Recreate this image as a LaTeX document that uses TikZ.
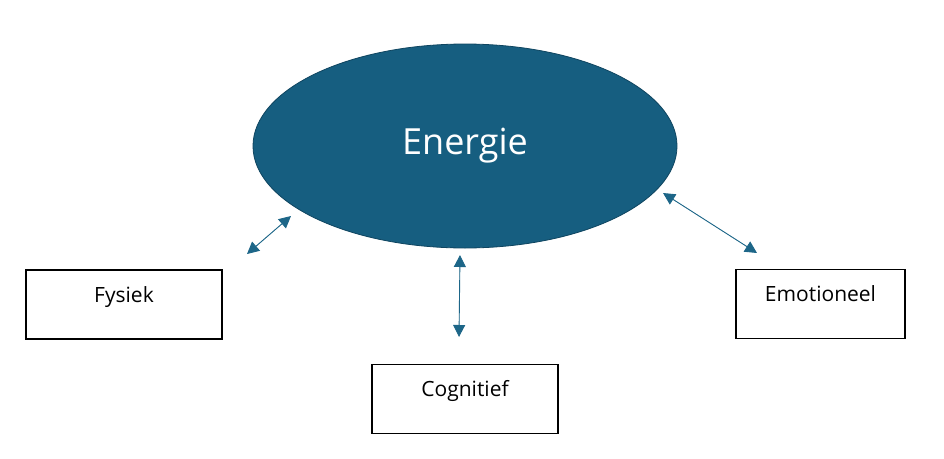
\documentclass[tikz,border=0pt]{standalone}
\usepackage{fontspec}
\setmainfont{Open Sans}
\usepackage{xcolor}
\usetikzlibrary{arrows.meta,positioning,shapes.geometric}
\definecolor{energyblue}{HTML}{165E80}
\definecolor{energyline}{HTML}{0F4560}
\definecolor{arrowblue}{HTML}{1D6688}
\begin{document}
\begin{tikzpicture}[x=1pt,y=-1pt,
box/.style={draw,line width=1.3pt,inner xsep=0pt,inner ysep=0pt,text height=32pt,text depth=37pt,font=\fontsize{21}{25}\selectfont},
arr/.style={{Triangle[length=12pt,width=12pt]}-{Triangle[length=12pt,width=12pt]},line width=0.9pt,draw=arrowblue,fill=arrowblue}]
\useasboundingbox (0,0) rectangle (944,458);
\node[ellipse,fill=energyblue,draw=energyline,line width=0.8pt,minimum width=424pt,minimum height=204pt,inner sep=0pt,text=white,font=\fontsize{36}{40}\selectfont] (energie) at (465,146) {\raisebox{7pt}{Energie}};
\node[box,minimum width=196pt] (fysiek) at (124,304.5) {Fysiek};
\node[box,minimum width=186pt] (cognitief) at (465,399) {Cognitief};
\node[box,minimum width=169pt] (emotioneel) at (820.5,304) {Emotioneel};
\coordinate (fysA) at (247,254); \coordinate (fysB) at (291,216);
\coordinate (cogA) at (460,255); \coordinate (cogB) at (459,337);
\coordinate (emoA) at (663,193); \coordinate (emoB) at (757,253);
\draw[arr] (fysA)--(fysB); \draw[arr] (cogA)--(cogB); \draw[arr] (emoA)--(emoB);
\end{tikzpicture}
\end{document}
